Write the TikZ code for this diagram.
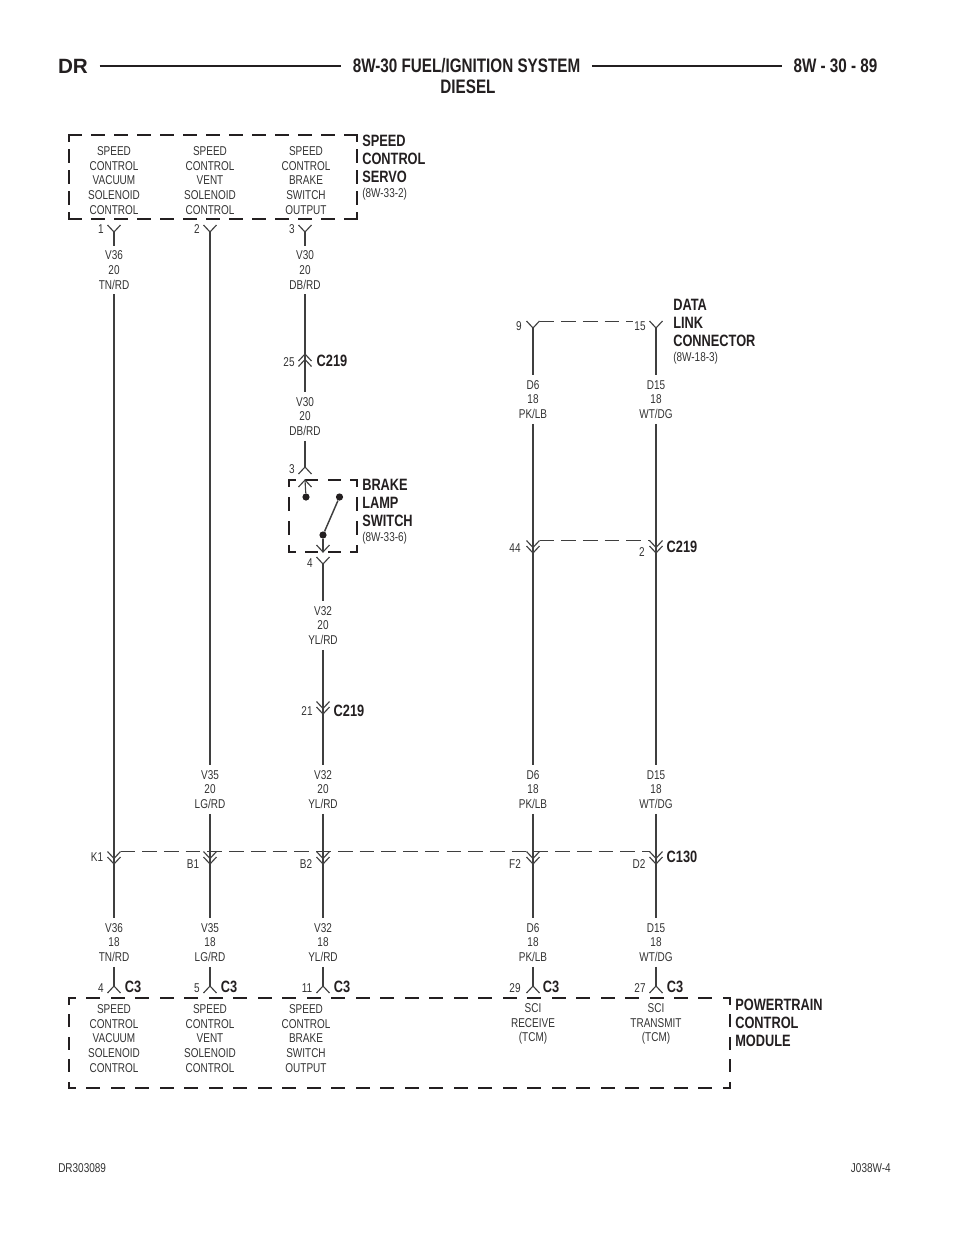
\documentclass[tikz,border=0pt]{standalone}
\usepackage{fontspec}
\setmainfont[FakeStretch=0.78]{Liberation Sans}
\newfontfamily\widefont{Liberation Sans}
\definecolor{ink}{HTML}{231F20}
\definecolor{wireink}{HTML}{3F3F3F}
\definecolor{textink}{HTML}{333333}
\tikzset{
  wire/.style={draw=wireink,line width=0.85pt},
  bus/.style={draw=wireink,line width=0.95pt,dash pattern=on 11pt off 5.3pt},
  boxline/.style={draw=ink,line width=2.1pt,line cap=rect},
  headrule/.style={draw=ink,line width=1.5pt},
  smalltext/.style={text=textink,font=\fontsize{9.6}{10.95}\selectfont,align=center,inner xsep=0pt,inner ysep=3.75pt},
  pinnum/.style={smalltext},
  partname/.style={text=ink,font=\fontsize{12.3}{13.5}\selectfont\bfseries,align=left,anchor=west,inner sep=0pt},
  partref/.style={smalltext,anchor=west,inner sep=0pt},
  connname/.style={partname,anchor=center},
  headtext/.style={text=ink,font=\fontsize{14.65}{16}\selectfont\bfseries,inner xsep=8.5pt,inner ysep=0pt},
  switchdot/.style={circle,fill=ink,inner sep=0pt,minimum size=5.4pt},
  vee/.pic={\draw[wire] (-6.5,-7) -- (0,0) -- (6.5,-7);},
  hat/.pic={\draw[wire] (-6.5,7) -- (0,0) -- (6.5,7);},
  dblvee/.pic={\draw[wire] (-6.5,-7) -- (0,0) -- (6.5,-7);
    \draw[wire] (-6.5,-12.5) -- (0,-5.5) -- (6.5,-12.5);},
  dblhat/.pic={\draw[wire] (-6.5,7) -- (0,0) -- (6.5,7);
    \draw[wire] (-6.5,12.5) -- (0,5.5) -- (6.5,12.5);}
}
\begin{document}
\begin{tikzpicture}[x=0.75pt,y=-0.75pt]
  \useasboundingbox (0,0) rectangle (960,1242);
  % header
  \node[headtext,font=\fontsize{15.5}{16}\selectfont\bfseries\widefont] (hdrdr) at (73,66) {DR};
  \node[headtext] (hdrtitle) at (466.5,66) {8W-30 FUEL/IGNITION SYSTEM};
  \node[headtext] (hdrpage) at (835.5,66) {8W - 30 - 89};
  \node[headtext] (hdrdiesel) at (468,87) {DIESEL};
  \draw[headrule] (hdrdr.east) -- (hdrtitle.west);
  \draw[headrule] (hdrtitle.east) -- (hdrpage.west);
  % speed control servo
  \draw[boxline,dash pattern=on 8.4pt off 8.9pt] (69,135) -- (357,135);
  \draw[boxline,dash pattern=on 8.4pt off 8.9pt] (69,219) -- (357,219);
  \draw[boxline,dash pattern=on 7.7pt off 8.05pt,dash phase=3.85pt] (69,135) -- (69,219);
  \draw[boxline,dash pattern=on 7.7pt off 8.05pt,dash phase=3.85pt] (357,135) -- (357,219);
  \node[smalltext] (srvvac) at (114,180.5) {SPEED\\CONTROL\\VACUUM\\SOLENOID\\CONTROL};
  \node[smalltext] (srvvent) at (210,180.5) {SPEED\\CONTROL\\VENT\\SOLENOID\\CONTROL};
  \node[smalltext] (srvbrk) at (306,180.5) {SPEED\\CONTROL\\BRAKE\\SWITCH\\OUTPUT};
  \node[partname] (srvname) at (362,159) {SPEED\\CONTROL\\SERVO};
  \node[partref] (srvref) at (362,194.5) {(8W-33-2)};
  % data link connector
  \node[partname] (dlcname) at (673,323) {DATA\\LINK\\CONNECTOR};
  \node[partref] (dlcref) at (673,358.5) {(8W-18-3)};
  % brake lamp switch
  \draw[boxline,dash pattern=on 7.9pt off 9.1pt,dash phase=3.95pt] (289,480) -- (357,480);
  \draw[boxline,dash pattern=on 7.9pt off 9.1pt,dash phase=3.95pt] (289,552) -- (357,552);
  \draw[boxline,dash pattern=on 8.4pt off 9.6pt,dash phase=4.2pt] (289,480) -- (289,552);
  \draw[boxline,dash pattern=on 8.4pt off 9.6pt,dash phase=4.2pt] (357,480) -- (357,552);
  \node[partname] (blsname) at (362,503) {BRAKE\\LAMP\\SWITCH};
  \node[partref] (blsref) at (362,538.5) {(8W-33-6)};
  % powertrain control module
  \draw[boxline,dash pattern=on 8.4pt off 9.96pt,dash phase=4.2pt] (69,998) -- (730,998);
  \draw[boxline,dash pattern=on 8.4pt off 9.96pt,dash phase=4.2pt] (69,1088) -- (730,1088);
  \draw[boxline,dash pattern=on 7.7pt off 9.2pt,dash phase=3.85pt] (69,998) -- (69,1088);
  \draw[boxline,dash pattern=on 7.7pt off 9.2pt,dash phase=3.85pt] (730,998) -- (730,1088);
  \node[smalltext] (pcmvac) at (114,1038.5) {SPEED\\CONTROL\\VACUUM\\SOLENOID\\CONTROL};
  \node[smalltext] (pcmvent) at (210,1038.5) {SPEED\\CONTROL\\VENT\\SOLENOID\\CONTROL};
  \node[smalltext] (pcmbrk) at (306,1038.5) {SPEED\\CONTROL\\BRAKE\\SWITCH\\OUTPUT};
  \node[smalltext] (pcmrx) at (533,1024) {SCI\\RECEIVE\\(TCM)};
  \node[smalltext] (pcmtx) at (656,1024) {SCI\\TRANSMIT\\(TCM)};
  \node[partname] (pcmname) at (735,1023) {POWERTRAIN\\CONTROL\\MODULE};
  % pins on the servo
  \foreach \nm/\xx/\num in {a/114/1,b/210/2,c/305/3}{
    \path (\xx,232) coordinate (top\nm) pic {vee};
    \node[pinnum] (topnum\nm) at (\xx-13,229) {\num};
  }
  % pins of the data link connector
  \foreach \nm/\xx/\num/\lx in {d/533/9/519,e/656/15/640}{
    \path (\xx,328) coordinate (top\nm) pic {vee};
    \node[pinnum] (topnum\nm) at (\lx,326) {\num};
  }
  % C130 row
  \foreach \nm/\xx/\num/\lx/\ly in {a/114/K1/97/857,b/210/B1/193/864,c/323/B2/306/864,d/533/F2/515/864,e/656/D2/639/864}{
    \path (\xx,864) coordinate (mid\nm) pic {dblvee};
    \node[pinnum] (midnum\nm) at (\lx,\ly) {\num};
  }
  % C3 row
  \foreach \nm/\xx/\num/\lx/\cx in {a/114/4/101/133,b/210/5/197/229,c/323/11/307/342,d/533/29/515/551,e/656/27/640/675}{
    \path (\xx,986) coordinate (low\nm) pic {hat};
    \node[pinnum] (lownum\nm) at (\lx,988) {\num};
    \node[connname] (lowconn\nm) at (\cx,987) {C3};
  }
  % wire labels
  \node[smalltext] (vupa) at (114,270) {V36\\20\\TN/RD};
  \node[smalltext] (vupc) at (305,270) {V30\\20\\DB/RD};
  \node[smalltext] (vmidc) at (305,416.5) {V30\\20\\DB/RD};
  \node[smalltext] (vswc) at (323,625.5) {V32\\20\\YL/RD};
  \node[smalltext] (dupd) at (533,399.5) {D6\\18\\PK/LB};
  \node[smalltext] (dupe) at (656,399.5) {D15\\18\\WT/DG};
  \node[smalltext] (vfarb) at (210,789.5) {V35\\20\\LG/RD};
  \node[smalltext] (vfarc) at (323,789.5) {V32\\20\\YL/RD};
  \node[smalltext] (vfard) at (533,789.5) {D6\\18\\PK/LB};
  \node[smalltext] (vfare) at (656,789.5) {D15\\18\\WT/DG};
  \node[smalltext] (vlowa) at (114,942.5) {V36\\18\\TN/RD};
  \node[smalltext] (vlowb) at (210,942.5) {V35\\18\\LG/RD};
  \node[smalltext] (vlowc) at (323,942.5) {V32\\18\\YL/RD};
  \node[smalltext] (vlowd) at (533,942.5) {D6\\18\\PK/LB};
  \node[smalltext] (vlowe) at (656,942.5) {D15\\18\\WT/DG};
  % C219 on V30
  \path (305,354) coordinate (cxa) pic {dblhat};
  \node[pinnum] (cxanum) at (289,362) {25};
  \node[connname] (cxaname) at (332,361) {C219};
  % brake lamp switch pins
  \path (305,467) coordinate (swin) pic {hat};
  \node[pinnum] (swinnum) at (292,469) {3};
  \path (305,480) coordinate (swtop) pic {hat};
  \node[switchdot] (swa) at (306,497) {};
  \node[switchdot] (swb) at (339.5,497) {};
  \node[switchdot] (swc) at (323,535) {};
  \path (323,552) coordinate (swbot) pic {vee};
  \path (323,564) coordinate (swout) pic {vee};
  \node[pinnum] (swoutnum) at (310,563) {4};
  \draw[wire,line width=1.1pt] (swc) -- (swb);
  \draw[wire] (swtop) -- (swa);
  \draw[wire] (swc) -- (swbot);
  % C219 on V32
  \path (323,714) coordinate (cxb) pic {dblvee};
  \node[pinnum] (cxbnum) at (307,711) {21};
  \node[connname] (cxbname) at (349,711) {C219};
  % C219 on D6 and D15
  \path (533,553) coordinate (cxd) pic {dblvee};
  \node[pinnum] (cxdnum) at (515,548) {44};
  \path (656,553) coordinate (cxe) pic {dblvee};
  \node[pinnum] (cxenum) at (642,552) {2};
  \node[connname] (cxename) at (682,547) {C219};
  \node[connname] (midname) at (682,857) {C130};
  % wires
  \draw[wire] (topa) -- (vupa);
  \draw[wire] (vupa) -- (mida);
  \draw[wire] (topb) -- (vfarb);
  \draw[wire] (vfarb) -- (midb);
  \draw[wire] (topc) -- (vupc);
  \draw[wire] (vupc) -- (cxa);
  \draw[wire] (cxa) -- (vmidc);
  \draw[wire] (vmidc) -- (swin);
  \draw[wire] (swout) -- (vswc);
  \draw[wire] (vswc) -- (cxb);
  \draw[wire] (cxb) -- (vfarc);
  \draw[wire] (vfarc) -- (midc);
  \draw[wire] (topd) -- (dupd);
  \draw[wire] (dupd) -- (cxd);
  \draw[wire] (cxd) -- (vfard);
  \draw[wire] (vfard) -- (midd);
  \draw[wire] (tope) -- (dupe);
  \draw[wire] (dupe) -- (cxe);
  \draw[wire] (cxe) -- (vfare);
  \draw[wire] (vfare) -- (mide);
  \foreach \nm in {a,b,c,d,e}{
    \draw[wire] (mid\nm) -- (vlow\nm);
    \draw[wire] (vlow\nm) -- (low\nm);
  }
  % dashed links between pins
  \coordinate (dlcl) at (539.5,321.5);
  \coordinate (dlcr) at (633,321.5);
  \coordinate (cxl) at (539.5,540.5);
  \coordinate (cxr) at (649.5,540.5);
  \coordinate (busl) at (120.5,851.5);
  \coordinate (busr) at (649.5,851.5);
  \draw[bus] (dlcl) -- (dlcr);
  \draw[bus] (cxl) -- (cxr);
  \draw[bus] (busl) -- (busr);
  % footer
  \node[smalltext,anchor=west,inner sep=0pt] (ftl) at (58,1168) {DR303089};
  \node[smalltext,anchor=east,inner sep=0pt] (ftr) at (891,1168) {J038W-4};
\end{tikzpicture}
\end{document}
